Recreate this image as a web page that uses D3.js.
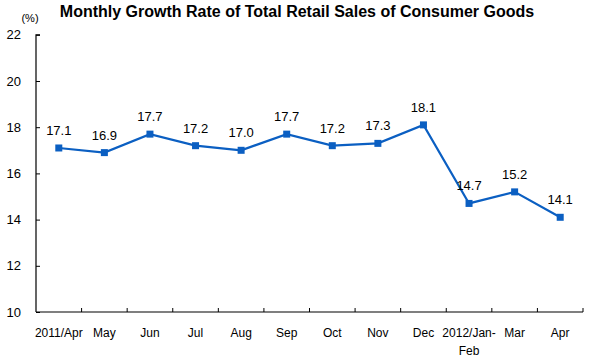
<!DOCTYPE html>
<html><head><meta charset="utf-8">
<script src="https://cdn.jsdelivr.net/npm/d3@7"></script>
<style>body{margin:0;background:#fff}svg{display:block;font-family:Arial,"Liberation Sans",sans-serif}</style>
</head><body><svg id="c" width="596" height="360"></svg>
<script>
const categories = ["2011/Apr","May","Jun","Jul","Aug","Sep","Oct","Nov","Dec","2012/Jan-Feb","Mar","Apr"];
const values = [17.1,16.9,17.7,17.2,17.0,17.7,17.2,17.3,18.1,14.7,15.2,14.1];
const yTicks = [10,12,14,16,18,20,22];
const title = "Monthly Growth Rate of Total Retail Sales of Consumer Goods";
const unit = "(%)";

const svg = d3.select("#c");
const mL = 36, mR = 583, mT = 34.8, mB = 312;
const x = d3.scaleBand().domain(categories).range([mL, mR]);
const y = d3.scaleLinear().domain([10,22]).range([mB, mT]);
const color = "#0b5fc2";

svg.append("text").attr("x", 297).attr("y", 17).attr("text-anchor","middle")
  .attr("font-size", 16).attr("font-weight","bold").attr("fill","#000").text(title);
svg.append("text").attr("x", 30).attr("y", 22).attr("text-anchor","middle")
  .attr("font-size", 11).attr("fill","#000").text(unit);

// y axis
const ya = svg.append("g").attr("transform",`translate(${mL},0)`)
  .call(d3.axisLeft(y).tickValues(yTicks).tickSize(-4).tickPadding(15).tickFormat(d3.format("d")));
ya.select(".domain").attr("stroke","#000").attr("stroke-width",1.2).attr("d",`M4,${mT}H0V${mB}`);
ya.selectAll(".tick line").attr("stroke","#000");
ya.selectAll(".tick text").attr("font-size",13).attr("font-family","Arial,'Liberation Sans',sans-serif").attr("fill","#000");

// x axis
const xa = svg.append("g").attr("transform",`translate(0,${mB})`)
  .call(d3.axisBottom(x).tickSize(0).tickPadding(0));
xa.select(".domain").attr("stroke","#000").attr("stroke-width",1.2).attr("d",`M${mL},0H${mR}`);
const bounds = categories.map(c => x(c) + x.bandwidth());
xa.selectAll(".sep").data(bounds).enter().append("line").attr("class","sep")
  .attr("x1",d=>d).attr("x2",d=>d).attr("y1",0).attr("y2",-4).attr("stroke","#000");
xa.selectAll(".tick text").remove();
xa.selectAll(".tick").each(function(d){
  const g = d3.select(this);
  const parts = d === "2012/Jan-Feb" ? ["2012/Jan-","Feb"] : [d];
  const t = g.append("text").attr("text-anchor","middle").attr("font-size",12)
    .attr("font-family","'Liberation Sans Narrow','Arial Narrow',Arial,sans-serif")
    .attr("fill","#000").attr("y",25);
  parts.forEach((p,i)=> t.append("tspan").attr("x",0).attr("dy", i===0?0:18).text(p));
});

// line
const cx = (d,i)=> x(categories[i]) + x.bandwidth()/2;
svg.append("path").datum(values)
  .attr("fill","none").attr("stroke",color).attr("stroke-width",2.2)
  .attr("d", d3.line().x(cx).y(d=>y(d)));
svg.selectAll(".m").data(values).enter().append("rect").attr("class","m")
  .attr("x",(d,i)=>cx(d,i)-3.5).attr("y",d=>y(d)-3.5).attr("width",7).attr("height",7).attr("fill",color);
svg.selectAll(".lbl").data(values).enter().append("text").attr("class","lbl")
  .attr("x",cx).attr("y",d=>y(d)-13).attr("text-anchor","middle")
  .attr("font-size",13).attr("fill","#000").text(d=>d.toFixed(1));
</script></body></html>
